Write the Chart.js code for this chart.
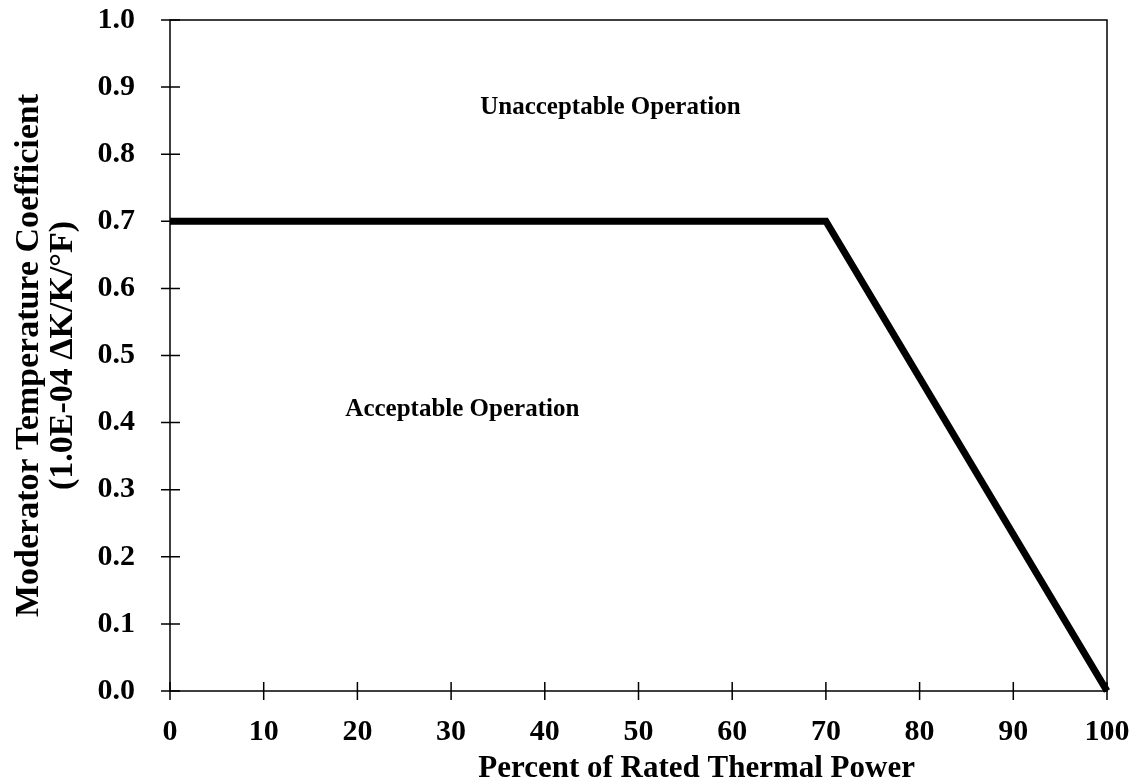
<!DOCTYPE html>
<html>
<head>
<meta charset="utf-8">
<script src="https://cdn.jsdelivr.net/npm/chart.js@4"></script>
<style>
  html, body { margin: 0; padding: 0; background: #fff; }
  #wrap { width: 1137px; height: 784px; }
</style>
</head>
<body>
<div id="wrap"><canvas id="mtcChart"></canvas></div>
<script>
// MTC limit vs. power
const powerPct = [0, 70, 100];
const mtcLimit = [0.7, 0.7, 0.0];

const xTickValues = [0, 10, 20, 30, 40, 50, 60, 70, 80, 90, 100];
const yTickValues = [0.0, 0.1, 0.2, 0.3, 0.4, 0.5, 0.6, 0.7, 0.8, 0.9, 1.0];

// region labels, placed in data units
const regionText = ['Unacceptable Operation', 'Acceptable Operation'];
const regionX = [47, 31.2];
const regionY = [0.87, 0.42];

const xTitle = 'Percent of Rated Thermal Power';
const serif = 'Liberation Serif';

// frame + ticks that cross the axis + region labels + x title
const framePlugin = {
  id: 'frame',
  afterDraw(chart) {
    const ctx = chart.ctx;
    const a = chart.chartArea;
    const xs = chart.scales.x, ys = chart.scales.y;
    ctx.save();
    ctx.strokeStyle = '#000';
    ctx.lineWidth = 1.5;
    ctx.strokeRect(a.left, a.top, a.right - a.left, a.bottom - a.top);

    ctx.beginPath();
    xTickValues.forEach(v => {
      const px = xs.getPixelForValue(v);
      ctx.moveTo(px, a.bottom - 9);
      ctx.lineTo(px, a.bottom + 9);
    });
    yTickValues.forEach(v => {
      const py = ys.getPixelForValue(v);
      ctx.moveTo(a.left - 9, py);
      ctx.lineTo(a.left + 10, py);
    });
    ctx.stroke();

    ctx.fillStyle = '#000';
    ctx.font = 'bold 25px "' + serif + '"';
    ctx.textAlign = 'center';
    ctx.textBaseline = 'middle';
    regionText.forEach((t, i) => {
      ctx.fillText(t, xs.getPixelForValue(regionX[i]), ys.getPixelForValue(regionY[i]));
    });

    // the scanned original sits its x title a bit right of the plot centre
    ctx.font = 'bold 31px "' + serif + '"';
    ctx.textBaseline = 'alphabetic';
    ctx.fillText(xTitle, xs.getPixelForValue(56.2), chart.height - 7);
    ctx.restore();
  }
};

new Chart(document.getElementById('mtcChart'), {
  type: 'line',
  data: {
    datasets: [{
      data: powerPct.map((p, i) => ({ x: p, y: mtcLimit[i] })),
      borderColor: '#000',
      borderWidth: 7,
      pointRadius: 0,
      tension: 0,
      clip: false
    }]
  },
  options: {
    responsive: true,
    maintainAspectRatio: false,
    animation: false,
    layout: { padding: { top: 20, right: 30, left: 0, bottom: 0 } },
    plugins: { legend: { display: false }, tooltip: { enabled: false } },
    scales: {
      x: {
        type: 'linear',
        min: 0, max: 100,
        afterBuildTicks: s => { s.ticks = xTickValues.map(v => ({ value: v })); },
        afterFit: s => { s.height = 93; s.paddingLeft = 0; s.paddingRight = 0; },
        grid: { display: false },
        border: { display: false },
        ticks: {
          padding: 15,
          color: '#000',
          font: { family: serif, size: 30, weight: 'bold' }
        }
      },
      y: {
        type: 'linear',
        min: 0, max: 1,
        afterBuildTicks: s => { s.ticks = yTickValues.map(v => ({ value: v })); },
        afterFit: s => { s.width = 170; s.paddingTop = 0; s.paddingBottom = 0; },
        grid: { display: false },
        border: { display: false },
        ticks: {
          padding: 27,
          color: '#000',
          callback: v => v.toFixed(1),
          font: { family: serif, size: 30, weight: 'bold' }
        },
        title: {
          display: true,
          text: ['Moderator Temperature Coefficient', '(1.0E-04 \u0394K/K/\u00B0F)'],
          color: '#000',
          padding: { top: 12, bottom: 0 },
          font: { family: serif, size: 34, weight: 'bold', lineHeight: 1.0 }
        }
      }
    }
  },
  plugins: [framePlugin]
});
</script>
</body>
</html>
